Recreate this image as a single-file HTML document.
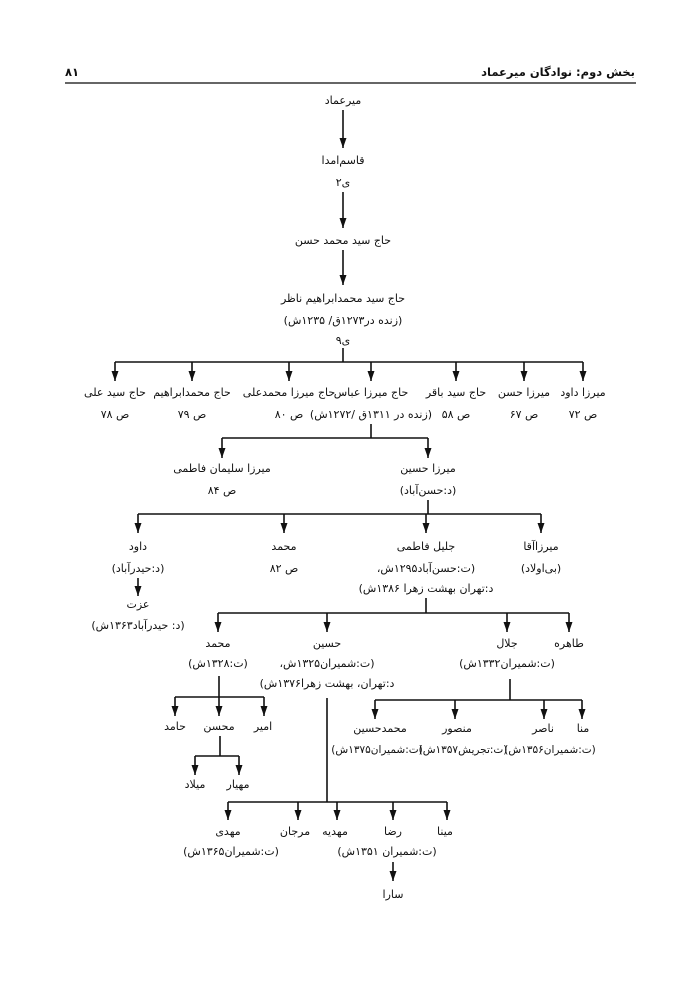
<!DOCTYPE html>
<html><head><meta charset="utf-8"><style>
html,body{margin:0;padding:0;background:#fff}
svg{display:block}
text{font-family:"DejaVu Sans",sans-serif;font-size:11px;fill:#111;text-anchor:middle;direction:rtl;unicode-bidi:embed}
</style></head><body>
<svg width="700" height="989" viewBox="0 0 700 989" xmlns="http://www.w3.org/2000/svg">
<defs>
<marker id="d" markerWidth="7" markerHeight="10" refX="3.5" refY="10" markerUnits="userSpaceOnUse" orient="0"><path d="M0,0 L7,0 L3.5,10 Z" fill="#111"/></marker></defs>
<text x="635" y="76" style="text-anchor:start;font-weight:bold;font-size:11.5px">بخش دوم: نوادگان میرعماد</text>
<text x="72" y="76" style="font-weight:bold;font-size:11.5px">۸۱</text>
<line x1="65" y1="83" x2="636" y2="83" stroke="#333" stroke-width="1.5"/>
<g stroke="#111" stroke-width="1.6" fill="none">
<line x1="343" y1="110" x2="343" y2="148" marker-end="url(#d)"/>
<line x1="343" y1="192" x2="343" y2="228" marker-end="url(#d)"/>
<line x1="343" y1="250" x2="343" y2="285" marker-end="url(#d)"/>
<line x1="343" y1="348" x2="343" y2="362"/>
<line x1="115" y1="362" x2="583" y2="362"/>
<line x1="115" y1="362" x2="115" y2="381" marker-end="url(#d)"/>
<line x1="192" y1="362" x2="192" y2="381" marker-end="url(#d)"/>
<line x1="289" y1="362" x2="289" y2="381" marker-end="url(#d)"/>
<line x1="371" y1="362" x2="371" y2="381" marker-end="url(#d)"/>
<line x1="456" y1="362" x2="456" y2="381" marker-end="url(#d)"/>
<line x1="524" y1="362" x2="524" y2="381" marker-end="url(#d)"/>
<line x1="583" y1="362" x2="583" y2="381" marker-end="url(#d)"/>
<line x1="371" y1="424" x2="371" y2="438"/>
<line x1="222" y1="438" x2="428" y2="438"/>
<line x1="222" y1="438" x2="222" y2="458" marker-end="url(#d)"/>
<line x1="428" y1="438" x2="428" y2="458" marker-end="url(#d)"/>
<line x1="428" y1="500" x2="428" y2="514"/>
<line x1="138" y1="514" x2="541" y2="514"/>
<line x1="138" y1="514" x2="138" y2="533" marker-end="url(#d)"/>
<line x1="284" y1="514" x2="284" y2="533" marker-end="url(#d)"/>
<line x1="426" y1="514" x2="426" y2="533" marker-end="url(#d)"/>
<line x1="541" y1="514" x2="541" y2="533" marker-end="url(#d)"/>
<line x1="138" y1="578" x2="138" y2="596" marker-end="url(#d)"/>
<line x1="426" y1="598" x2="426" y2="613"/>
<line x1="218" y1="613" x2="569" y2="613"/>
<line x1="218" y1="613" x2="218" y2="632" marker-end="url(#d)"/>
<line x1="327" y1="613" x2="327" y2="632" marker-end="url(#d)"/>
<line x1="507" y1="613" x2="507" y2="632" marker-end="url(#d)"/>
<line x1="569" y1="613" x2="569" y2="632" marker-end="url(#d)"/>
<line x1="510" y1="679" x2="510" y2="700"/>
<line x1="375" y1="700" x2="582" y2="700"/>
<line x1="375" y1="700" x2="375" y2="719" marker-end="url(#d)"/>
<line x1="455" y1="700" x2="455" y2="719" marker-end="url(#d)"/>
<line x1="544" y1="700" x2="544" y2="719" marker-end="url(#d)"/>
<line x1="582" y1="700" x2="582" y2="719" marker-end="url(#d)"/>
<line x1="219" y1="676" x2="219" y2="697"/>
<line x1="175" y1="697" x2="264" y2="697"/>
<line x1="175" y1="697" x2="175" y2="716" marker-end="url(#d)"/>
<line x1="219" y1="697" x2="219" y2="716" marker-end="url(#d)"/>
<line x1="264" y1="697" x2="264" y2="716" marker-end="url(#d)"/>
<line x1="220" y1="736" x2="220" y2="756"/>
<line x1="195" y1="756" x2="239" y2="756"/>
<line x1="195" y1="756" x2="195" y2="775" marker-end="url(#d)"/>
<line x1="239" y1="756" x2="239" y2="775" marker-end="url(#d)"/>
<line x1="327" y1="698" x2="327" y2="802"/>
<line x1="228" y1="802" x2="447" y2="802"/>
<line x1="228" y1="802" x2="228" y2="820" marker-end="url(#d)"/>
<line x1="298" y1="802" x2="298" y2="820" marker-end="url(#d)"/>
<line x1="337" y1="802" x2="337" y2="820" marker-end="url(#d)"/>
<line x1="393" y1="802" x2="393" y2="820" marker-end="url(#d)"/>
<line x1="447" y1="802" x2="447" y2="820" marker-end="url(#d)"/>
<line x1="393" y1="862" x2="393" y2="881" marker-end="url(#d)"/>
</g>
<text x="343" y="104">میرعماد</text>
<text x="343" y="164">قاسم‌امدا</text>
<text x="343" y="186">ی۲</text>
<text x="343" y="244">حاج سید محمد حسن</text>
<text x="343" y="302">حاج سید محمدابراهیم ناظر</text>
<text x="343" y="324">(زنده در۱۲۷۳ق/ ۱۲۳۵ش)</text>
<text x="343" y="344">ی۹</text>
<text x="115" y="396">حاج سید علی</text><text x="115" y="418">ص ۷۸</text>
<text x="192" y="396">حاج محمدابراهیم</text><text x="192" y="418">ص ۷۹</text>
<text x="289" y="396">حاج میرزا محمدعلی</text><text x="289" y="418">ص ۸۰</text>
<text x="371" y="396">حاج میرزا عباس</text><text x="371" y="418">(زنده در ۱۳۱۱ق /۱۲۷۲ش)</text>
<text x="456" y="396">حاج سید باقر</text><text x="456" y="418">ص ۵۸</text>
<text x="524" y="396">میرزا حسن</text><text x="524" y="418">ص ۶۷</text>
<text x="583" y="396">میرزا داود</text><text x="583" y="418">ص ۷۲</text>
<text x="222" y="472">میرزا سلیمان فاطمی</text><text x="222" y="494">ص ۸۴</text>
<text x="428" y="472">میرزا حسین</text><text x="428" y="494">(د:حسن‌آباد)</text>
<text x="138" y="550">داود</text><text x="138" y="572">(د:حیدرآباد)</text>
<text x="138" y="608">عزت</text><text x="138" y="629">(د: حیدرآباد۱۳۶۳ش)</text>
<text x="284" y="550">محمد</text><text x="284" y="572">ص ۸۲</text>
<text x="426" y="550">جلیل فاطمی</text><text x="426" y="572">(ت:حسن‌آباد۱۲۹۵ش،</text><text x="426" y="592">د:تهران بهشت زهرا ۱۳۸۶ش)</text>
<text x="541" y="550">میرزاآقا</text><text x="541" y="572">(بی‌اولاد)</text>
<text x="218" y="647">محمد</text><text x="218" y="667">(ت:۱۳۲۸ش)</text>
<text x="327" y="647">حسین</text><text x="327" y="667">(ت:شمیران۱۳۲۵ش،</text><text x="327" y="687">د:تهران، بهشت زهرا۱۳۷۶ش)</text>
<text x="507" y="647">جلال</text><text x="507" y="667">(ت:شمیران۱۳۳۲ش)</text>
<text x="569" y="647">طاهره</text>
<text x="380" y="732">محمدحسین</text><text x="377" y="753" style="font-size:10.5px">(ت:شمیران۱۳۷۵ش)</text>
<text x="457" y="732">منصور</text><text x="463" y="753" style="font-size:10.5px">(ت:تجریش۱۳۵۷ش)</text>
<text x="543" y="732">ناصر</text><text x="550" y="753" style="font-size:10.5px">(ت:شمیران۱۳۵۶ش)</text>
<text x="583" y="732">منا</text>
<text x="175" y="730">حامد</text><text x="219" y="730">محسن</text><text x="263" y="730">امیر</text>
<text x="195" y="788">میلاد</text><text x="238" y="788">مهیار</text>
<text x="228" y="835">مهدی</text><text x="231" y="855">(ت:شمیران۱۳۶۵ش)</text>
<text x="295" y="835">مرجان</text><text x="335" y="835">مهدیه</text>
<text x="393" y="835">رضا</text><text x="387" y="855">(ت:شمیران ۱۳۵۱ش)</text>
<text x="445" y="835">مینا</text>
<text x="393" y="898">سارا</text>
</svg>
</body></html>
